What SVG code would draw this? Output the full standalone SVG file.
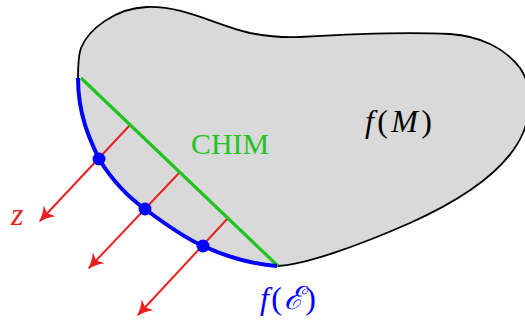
<svg xmlns="http://www.w3.org/2000/svg" width="525" height="320" viewBox="0 0 525 320">
<style>
.lbl{font-family:"Liberation Serif","DejaVu Serif",serif;font-size:29px}
.big{font-size:32px}
.it{font-style:italic}
.red{stroke:#e8201e;stroke-width:2;fill:none}
</style>
<defs>
<marker id="ah" markerUnits="userSpaceOnUse" markerWidth="22" markerHeight="22" refX="0" refY="0" viewBox="-16 -11 22 22" orient="auto">
<path d="M1.5,0 C-4,-1.5 -10,-4.5 -14,-8 L-10.5,0 L-14,8 C-10,4.5 -4,1.5 1.5,0 Z" fill="#e8201e"/>
</marker>
</defs>
<g id="region">
<path d="M277,266 C305,265 360,245 410,223 C450,205 505,175 523,133 C532,112 532,85 520,68 C505,48 480,36 450,34 C410,32 350,34 300,37 C280,38 265,36 250,33 C215,25 185,6 147,7 C115,8 88,30 81,48 C78,56 78,68 78,78 C78,115 90,140 99,159 C112,180 128,197 145,209 C165,224 185,238 203,246 C225,256 250,264 277,266 Z" fill="#d9d9d9" stroke="none"/>
<path d="M277,266 C305,265 360,245 410,223 C450,205 505,175 523,133 C532,112 532,85 520,68 C505,48 480,36 450,34 C410,32 350,34 300,37 C280,38 265,36 250,33 C215,25 185,6 147,7 C115,8 88,30 81,48 C78,56 78,68 78,78" fill="none" stroke="#000" stroke-width="1.8"/>
<text class="lbl big" x="365" y="132" textLength="67" lengthAdjust="spacing"><tspan class="it">f</tspan>(<tspan class="it">M</tspan>)</text>
</g>
<g id="connectors">
<line class="red" x1="130" y1="125" x2="40" y2="221" marker-end="url(#ah)"/>
<line class="red" x1="180" y1="172" x2="89" y2="268" marker-end="url(#ah)"/>
<line class="red" x1="229" y1="217" x2="138" y2="315" marker-end="url(#ah)"/>
</g>
<g id="chim">
<line x1="81" y1="78" x2="278" y2="266" stroke="#1fc41f" stroke-width="3.2"/>
<text class="lbl" x="191" y="154" fill="#1fc41f" textLength="78" lengthAdjust="spacingAndGlyphs">CHIM</text>
</g>
<g id="fE">
<path d="M78,78 C78,115 90,140 99,159 C112,180 128,197 145,209 C165,224 185,238 203,246 C225,256 250,264 277,266" fill="none" stroke="#0000ff" stroke-width="4"/>
<circle cx="99" cy="159" r="6.5" fill="#0000ff"/>
<circle cx="145" cy="209" r="6.5" fill="#0000ff"/>
<circle cx="203" cy="246" r="6.5" fill="#0000ff"/>
<text class="lbl big" x="260" y="309" fill="#0000ff" textLength="56" lengthAdjust="spacing"><tspan class="it">f</tspan>(<tspan class="it">ℰ</tspan>)</text>
</g>
<g id="z">
<text class="lbl it big" x="11" y="225" fill="#e8201e">z</text>
</g>
</svg>
